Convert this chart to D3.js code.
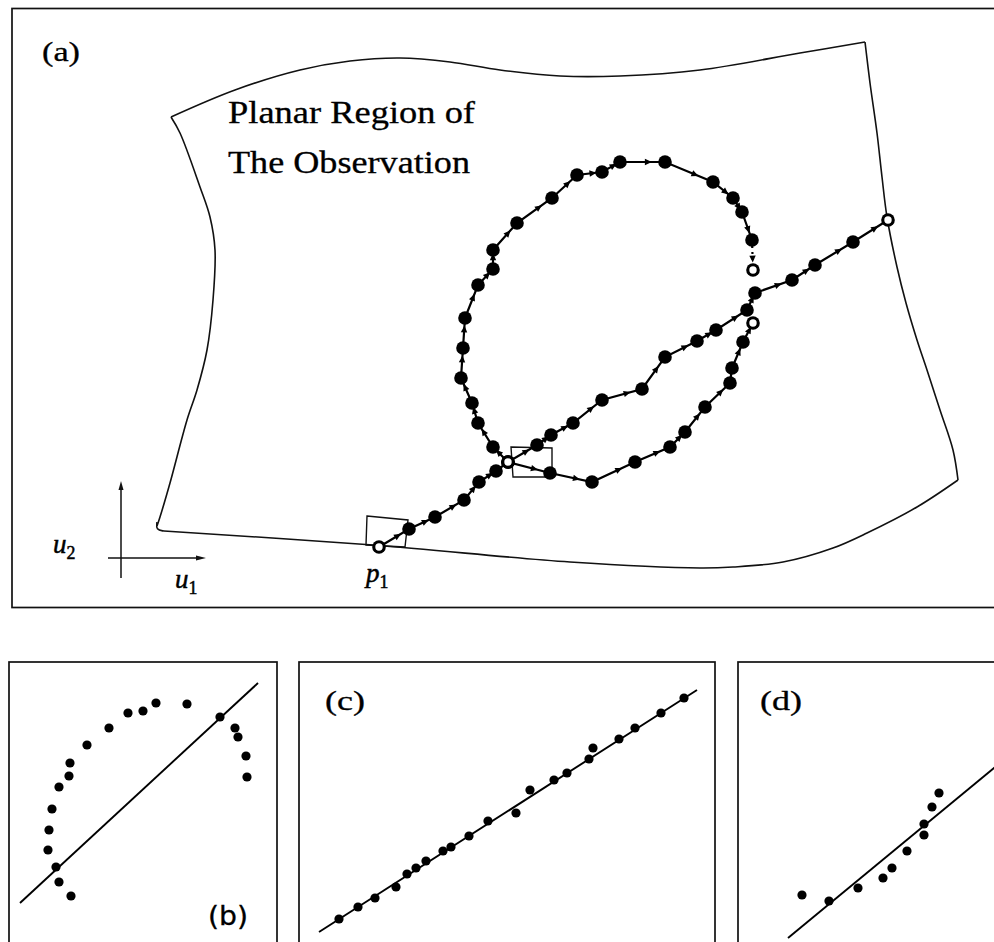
<!DOCTYPE html>
<html>
<head>
<meta charset="utf-8">
<script src="https://cdn.jsdelivr.net/npm/d3@7"></script>
<style>
  html, body { margin: 0; padding: 0; background: #fff; }
  svg { display: block; }
</style>
</head>
<body>
<svg id="fig" width="994" height="942"></svg>
<script>
// ---------- Panel (a): trajectories on the planar region, (u1, u2) units ----------
// Straight trajectory starting at p1 and leaving through the right border
const trajLine = [[25.9,1.1],[28.9,2.9],[31.5,4.1],[34.4,5.8],[35.9,7.6],[37.6,8.7],[38.8,9.6],
  [41.7,11.3],[43.1,12.3],[45.3,13.5],[48.2,15.8],[52.2,16.9],[54.5,20.1],[57.7,21.7],[59.6,22.8],
  [62.7,24.8],[63.5,26.5],[67.2,27.8],[69.5,29.3],[73.3,31.6],[76.8,33.8]];
// Upper loop: from the crossing, up the left side, over the top, down to its end
const trajUpper = [[38.8,9.6],[37.3,11.1],[35.8,13.5],[35.2,15.5],[34.1,18.0],[34.3,21.0],[34.5,24.0],
  [35.8,27.3],[37.3,28.9],[37.3,30.8],[39.7,33.5],[43.2,36.0],[45.7,38.3],[48.2,38.6],[50.0,39.6],
  [54.5,39.6],[59.3,37.6],[61.3,36.0],[62.2,34.6],[63.2,31.8],[63.3,28.8]];
// Lower arc: from the crossing, to the right and up to its end
const trajLower = [[38.8,9.6],[43.0,8.5],[47.2,7.6],[51.5,9.6],[55.0,11.1],[56.5,12.6],[58.5,15.1],
  [61.0,17.5],[61.2,19.0],[62.3,21.6],[63.3,23.5]];
// Open (start / end / crossing) markers
const openMarks = [[25.9,1.1],[38.8,9.6],[76.8,33.8],[63.3,28.8],[63.3,23.5]];

// Border of the planar region, one edge at a time
const edgeTop = [[5.1,44.1],[11.5,46.8],[18,48.8],[23,49.7],[28,50],[33,49.6],[38,48.8],[44,48.2],
  [50,48.2],[58,48.8],[68,50.5],[74.5,51.6]];
const edgeRight = [[74.5,51.6],[75,47.5],[75.7,42.5],[76.2,38.1],[76.7,34.1],[77.7,29.1],[78.6,25.5],
  [79.7,21.8],[80.7,18.8],[82,14.8],[83.3,10.8],[83.8,7.8]];
const edgeBottom = [[83.8,7.8],[79.7,5.1],[74.7,2.5],[71.3,1.0],[66.3,-0.4],[61.3,-0.9],[58,-1.0],
  [45,-0.4],[25.3,1.3],[4.4,2.7]];
const edgeLeft = [[3.7,3.2],[4,4.1],[5,7.5],[6.7,13.8],[7.7,16.8],[8.7,20.8],[9.3,25.8],[9.5,30.8],
  [9,34.1],[8,37.1],[6,42.5],[5.1,44.1]];

// Small reference frames at p1 and at the crossing
const frameP1 = [[24.7,4.2],[28.8,3.8],[28.5,1.1],[24.6,1.3]];
const frameCross = [[39.1,11.1],[43.2,11.0],[43.2,8.1],[39.3,8.1]];

// ---------- Panels (b), (c), (d): projected point sets with fitted lines ----------
const ptsB = [[6.2,4.6],[5.0,6.0],[4.7,7.5],[3.9,9.2],[4.0,11.2],[4.3,13.3],[5.0,15.5],[6.0,16.6],
  [6.1,17.9],[7.8,19.7],[10.0,21.4],[11.9,22.9],[13.4,23.1],[14.7,23.9],[17.8,23.8],[21.1,22.5],
  [22.6,21.4],[22.9,20.5],[23.7,18.6],[23.8,16.5]];
const fitB = [[1.1,3.9],[24.9,25.9]];

const ptsC = [[4.0,2.3],[5.9,3.5],[7.6,4.4],[9.7,5.5],[10.8,6.8],[11.7,7.4],[12.7,8.1],[14.4,9.1],
  [15.2,9.5],[17.0,10.6],[18.9,12.1],[21.7,12.9],[23.1,15.2],[25.5,16.2],[26.8,16.9],[29.0,18.3],
  [29.4,19.4],[32.0,20.3],[33.6,21.4],[36.2,22.9],[38.5,24.4]];
const fitC = [[2.0,1.0],[39.8,25.2]];

const ptsD = [[6.4,4.7],[9.1,4.1],[12.0,5.4],[14.5,6.4],[15.4,7.4],[16.9,9.1],[18.6,10.7],[18.6,11.8],
  [19.4,13.5],[20.1,14.9]];
const fitD = [[5.0,0.4],[27.0,18.55]];

const svg = d3.select("#fig");
const serif = "'Liberation Serif','Times New Roman',serif";

// ---------- Panel (a) ----------
const xA = d3.scaleLinear().domain([-11, 87.4]).range([10, 994]);
const yA = d3.scaleLinear().domain([-5, 55]).range([608, 8]);
const gA = svg.append("g");

gA.append("rect")
  .attr("x", xA(-10.8)).attr("y", yA(55 - 0.05))
  .attr("width", xA(90) - xA(-10.8)).attr("height", yA(-4.95) - yA(54.95))
  .attr("fill", "none").attr("stroke", "#111").attr("stroke-width", 1.7);

const edgeLine = d3.line().x(d => xA(d[0])).y(d => yA(d[1])).curve(d3.curveCatmullRom.alpha(0.5));
[edgeTop, edgeRight, edgeBottom, edgeLeft].forEach(e => {
  gA.append("path").attr("d", edgeLine(e))
    .attr("fill", "none").attr("stroke", "#111").attr("stroke-width", 1.6);
});
// rounded bottom-left corner
gA.append("path")
  .attr("d", d3.line().x(d => xA(d[0])).y(d => yA(d[1])).curve(d3.curveBasis)([[4.4,2.7],[3.6,2.8],[3.7,3.6]]))
  .attr("fill", "none").attr("stroke", "#111").attr("stroke-width", 1.6);

// reference frames
[frameP1, frameCross].forEach(f => {
  gA.append("path").attr("d", d3.line().x(d => xA(d[0])).y(d => yA(d[1])).curve(d3.curveLinearClosed)(f))
    .attr("fill", "none").attr("stroke", "#111").attr("stroke-width", 1.4);
});

// trajectories
const pathLine = d3.line().x(d => xA(d[0])).y(d => yA(d[1]));
function drawTrajectory(pts, dottedTail) {
  const solid = dottedTail ? pts.slice(0, -1) : pts;
  gA.append("path").attr("d", pathLine(solid))
    .attr("fill", "none").attr("stroke", "#000").attr("stroke-width", 2.2);
  if (dottedTail) {
    gA.append("path").attr("d", pathLine(pts.slice(-2)))
      .attr("fill", "none").attr("stroke", "#000").attr("stroke-width", 2.2)
      .attr("stroke-dasharray", "2,4");
  }
  // arrowheads between successive samples
  for (let i = 0; i < pts.length - 1; i++) {
    const x0 = xA(pts[i][0]), y0 = yA(pts[i][1]);
    const x1 = xA(pts[i + 1][0]), y1 = yA(pts[i + 1][1]);
    const dx = x1 - x0, dy = y1 - y0, L = Math.hypot(dx, dy);
    if (L < 16) continue;
    const ux = dx / L, uy = dy / L;
    const cx = x0 + dx * 0.62, cy = y0 + dy * 0.62;
    const tip = [cx + ux * 4, cy + uy * 4];
    const b1 = [cx - ux * 3 - uy * 3.2, cy - uy * 3 + ux * 3.2];
    const b2 = [cx - ux * 3 + uy * 3.2, cy - uy * 3 - ux * 3.2];
    gA.append("path").attr("d", `M${tip}L${b1}L${b2}Z`).attr("fill", "#000");
  }
  gA.selectAll(null).data(pts).enter().append("circle")
    .attr("cx", d => xA(d[0])).attr("cy", d => yA(d[1])).attr("r", 6.8).attr("fill", "#000");
}
drawTrajectory(trajLine, false);
drawTrajectory(trajUpper, true);
drawTrajectory(trajLower, false);

gA.selectAll(null).data(openMarks).enter().append("circle")
  .attr("cx", d => xA(d[0])).attr("cy", d => yA(d[1])).attr("r", 4.8)
  .attr("fill", "#fff").attr("stroke", "#000").attr("stroke-width", 2.2);

// coordinate axes u1, u2
gA.append("line").attr("x1", xA(0.1)).attr("y1", yA(-2)).attr("x2", xA(0.1)).attr("y2", yA(7.2))
  .attr("stroke", "#111").attr("stroke-width", 1.5);
gA.append("path").attr("d", `M${xA(0.1)},${yA(7.7)}L${xA(0.1) - 2.5},${yA(6.8)}L${xA(0.1) + 2.5},${yA(6.8)}Z`).attr("fill", "#111");
gA.append("line").attr("x1", xA(-1.2)).attr("y1", yA(0)).attr("x2", xA(8.1)).attr("y2", yA(0))
  .attr("stroke", "#111").attr("stroke-width", 1.5);
gA.append("path").attr("d", `M${xA(8.6)},${yA(0)}L${xA(7.6)},${yA(0) - 2.5}L${xA(7.6)},${yA(0) + 2.5}Z`).attr("fill", "#111");

function mathLabel(g, x, y, base, sub, size) {
  const t = g.append("text").attr("x", x).attr("y", y)
    .attr("font-family", serif).attr("font-size", size).attr("fill", "#000")
    .attr("stroke", "#000").attr("stroke-width", 0.5);
  t.append("tspan").attr("font-style", "italic").text(base);
  t.append("tspan").attr("dy", size * 0.22).attr("font-size", size * 0.66).text(sub);
}
mathLabel(gA, xA(-6.7), yA(0.5), "u", "2", 27);
mathLabel(gA, xA(5.5), yA(-3.0), "u", "1", 27);
mathLabel(gA, xA(24.6), yA(-2.4), "p", "1", 27);

function heavyText(g, x, y, size, w, str, font) {
  return g.append("text").attr("x", x).attr("y", y)
    .attr("font-family", font || serif).attr("font-size", size)
    .attr("textLength", w).attr("lengthAdjust", "spacingAndGlyphs")
    .attr("fill", "#000").attr("stroke", "#000").attr("stroke-width", 0.3)
    .text(str);
}
heavyText(gA, xA(-7.8), yA(49.7), 28, 38, "(a)");
heavyText(gA, xA(10.8), yA(43.5), 32, 247, "Planar Region of");
heavyText(gA, xA(10.8), yA(38.5), 32, 242, "The Observation");

// ---------- Bottom panels ----------
function scatterPanel(left, right, pts, fit, label) {
  const x = d3.scaleLinear().domain([0, (right - left) / 10]).range([left, right]);
  const y = d3.scaleLinear().domain([0, 28]).range([942, 662]);
  const g = svg.append("g");
  g.append("rect").attr("x", left).attr("y", y(28)).attr("width", right - left).attr("height", 300)
    .attr("fill", "none").attr("stroke", "#111").attr("stroke-width", 1.7);
  g.append("line").attr("x1", x(fit[0][0])).attr("y1", y(fit[0][1]))
    .attr("x2", x(fit[1][0])).attr("y2", y(fit[1][1]))
    .attr("stroke", "#000").attr("stroke-width", 1.9);
  g.selectAll(null).data(pts).enter().append("circle")
    .attr("cx", d => x(d[0])).attr("cy", d => y(d[1])).attr("r", 4.6).attr("fill", "#000");
  heavyText(g, x(label.x), y(label.y), label.size, label.w, label.text, label.font);
  return g;
}
scatterPanel(9, 277, ptsB, fitB,
  { text: "(b)", x: 19.9, y: 1.7, size: 27, w: 40, font: "'Liberation Sans Narrow','DejaVu Sans Condensed',sans-serif" });
scatterPanel(299, 715, ptsC, fitC,
  { text: "(c)", x: 2.6, y: 23.2, size: 28, w: 40, font: serif });
scatterPanel(738, 1010, ptsD, fitD,
  { text: "(d)", x: 2.2, y: 23.2, size: 28, w: 42, font: serif });
</script>
</body>
</html>
